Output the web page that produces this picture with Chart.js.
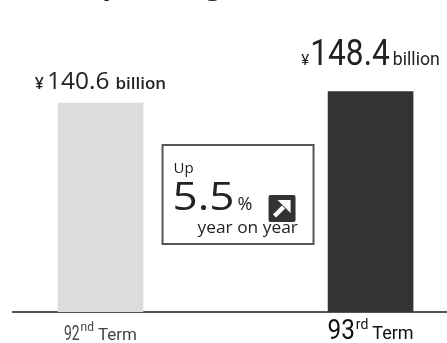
<!DOCTYPE html>
<html>
<head>
<meta charset="utf-8">
<script src="https://cdn.jsdelivr.net/npm/chart.js@4"></script>
<style>
  html, body { margin: 0; padding: 0; background: #fff; }
  #wrap { width: 447px; height: 343px; position: relative; }
</style>
</head>
<body>
<div id="wrap"><canvas id="myChart"></canvas></div>
<script>
'use strict';

// data
let termNumbers = ['92', '93'];
let termSuffixes = ['nd', 'rd'];
let termWord = 'Term';
let profitValues = [140.6, 148.4];
let valueUnit = 'billion';
let currency = '\u00a5';
let growthText = ['Up', '5.5', '%', 'year on year'];
let titleText = 'Operating income';

let barColors = ['#dcdcdc', '#333333'];

// draws a string squeezed/stretched horizontally, returns drawn width
function drawText(ctx, text, x, y, font, color, sx) {
  sx = sx || 1;
  ctx.save();
  ctx.font = font;
  ctx.fillStyle = color;
  ctx.textBaseline = 'alphabetic';
  ctx.textAlign = 'left';
  ctx.translate(x, y);
  ctx.scale(sx, 1);
  ctx.fillText(text, 0, 0);
  let w = ctx.measureText(text).width * sx;
  ctx.restore();
  return w;
}

function textWidth(ctx, text, font, sx) {
  ctx.save();
  ctx.font = font;
  let w = ctx.measureText(text).width * (sx || 1);
  ctx.restore();
  return w;
}

const labelsPlugin = {
  id: 'labels',
  afterDraw(chart) {
    const ctx = chart.ctx;
    const xs = chart.scales.x;
    const ys = chart.scales.y;

    // heading, mostly above the top edge
    drawText(ctx, titleText, 80, -6, 'bold 28px "Open Sans"', '#222');

    // value labels over the bars
    let labelParts = [
      [
        { t: currency, f: '600 16px "Open Sans"', sx: 1, gap: 3 },
        { t: profitValues[0].toFixed(1), f: '24px "Open Sans"', sx: 1.02, gap: 6 },
        { t: valueUnit, f: '600 17px "Open Sans"', sx: 1, gap: 0 }
      ],
      [
        { t: currency, f: '15px Roboto', sx: 1, gap: 1 },
        { t: profitValues[1].toFixed(1), f: '36px Roboto', sx: 0.88, gap: 3 },
        { t: valueUnit, f: '19px Roboto', sx: 0.93, gap: 0 }
      ]
    ];
    let labelGap = [14, 27];
    for (let i = 0; i < profitValues.length; i++) {
      let parts = labelParts[i];
      let total = 0;
      parts.forEach(p => { total += textWidth(ctx, p.t, p.f, p.sx) + p.gap; });
      let cx = xs.getPixelForValue(i);
      let y = ys.getPixelForValue(profitValues[i]) - labelGap[i];
      let x = cx - total / 2;
      parts.forEach(p => {
        x += drawText(ctx, p.t, x, y, p.f, '#222', p.sx) + p.gap;
      });
    }

    // category labels under the axis
    let catStyle = [
      { num: '21px Roboto', numSx: 0.66, sup: '12px Roboto', term: '17px Roboto', color: '#444', base: 340, supRise: 9 },
      { num: '27px Roboto', numSx: 0.9, sup: '14px Roboto', term: '18px Roboto', color: '#111', base: 339, supRise: 10 }
    ];
    for (let i = 0; i < termNumbers.length; i++) {
      let s = catStyle[i];
      let total = textWidth(ctx, termNumbers[i], s.num, s.numSx) + 1 +
        textWidth(ctx, termSuffixes[i], s.sup) + 4 +
        textWidth(ctx, termWord, s.term);
      let x = xs.getPixelForValue(i) - total / 2;
      x += drawText(ctx, termNumbers[i], x, s.base, s.num, s.color, s.numSx) + 1;
      x += drawText(ctx, termSuffixes[i], x, s.base - s.supRise, s.sup, s.color) + 4;
      drawText(ctx, termWord, x, s.base, s.term, s.color);
    }

    // growth box between the bars
    let bx = (xs.getPixelForValue(0) + xs.getPixelForValue(1)) / 2 - 73;
    let by = 145;
    let bw = 151, bh = 99;
    ctx.save();
    ctx.strokeStyle = '#555';
    ctx.lineWidth = 2;
    ctx.strokeRect(bx, by, bw, bh);
    ctx.restore();

    drawText(ctx, growthText[0], bx + 11, by + 28, '15px "Open Sans"', '#222');
    let w55 = drawText(ctx, growthText[1], bx + 10, by + 65, '38px "Open Sans"', '#222', 1.16);
    drawText(ctx, growthText[2], bx + 10 + w55 + 3, by + 65, '18px "Open Sans"', '#222');
    drawText(ctx, growthText[3], bx + 35, by + 88, '17px "Open Sans"', '#222', 1.02);

    // arrow icon
    let ix = bx + 106, iy = by + 50, is = 27;
    ctx.save();
    ctx.fillStyle = '#333';
    ctx.beginPath();
    ctx.roundRect(ix, iy, is, is, 2);
    ctx.fill();
    ctx.fillStyle = '#fff';
    ctx.strokeStyle = '#fff';
    ctx.lineWidth = 4.5;
    ctx.beginPath();
    ctx.moveTo(ix + 6, iy + 21);
    ctx.lineTo(ix + 15, iy + 12);
    ctx.stroke();
    ctx.beginPath();
    ctx.moveTo(ix + 22, iy + 5);
    ctx.lineTo(ix + 22, iy + 18);
    ctx.lineTo(ix + 9, iy + 5);
    ctx.closePath();
    ctx.fill();
    ctx.restore();
  }
};

const data = {
  datasets: [{
    data: profitValues.map((v, i) => ({ x: i, y: v })),
    backgroundColor: barColors,
    borderWidth: 0,
    barThickness: 85
  }]
};

const config = {
  type: 'bar',
  data: data,
  options: {
    responsive: true,
    maintainAspectRatio: false,
    animation: false,
    layout: { padding: { left: 13, right: 0, top: 0, bottom: 31 } },
    plugins: {
      legend: { display: false },
      tooltip: { enabled: false }
    },
    scales: {
      x: {
        type: 'linear',
        min: -0.324,
        max: 1.283,
        offset: false,
        grid: { display: false, drawTicks: false },
        border: { display: true, color: '#555', width: 2 },
        ticks: { display: false }
      },
      y: {
        display: false,
        min: 0,
        max: 210
      }
    }
  },
  plugins: [labelsPlugin]
};

let myChart = new Chart(document.getElementById('myChart'), config);
</script>
</body>
</html>
